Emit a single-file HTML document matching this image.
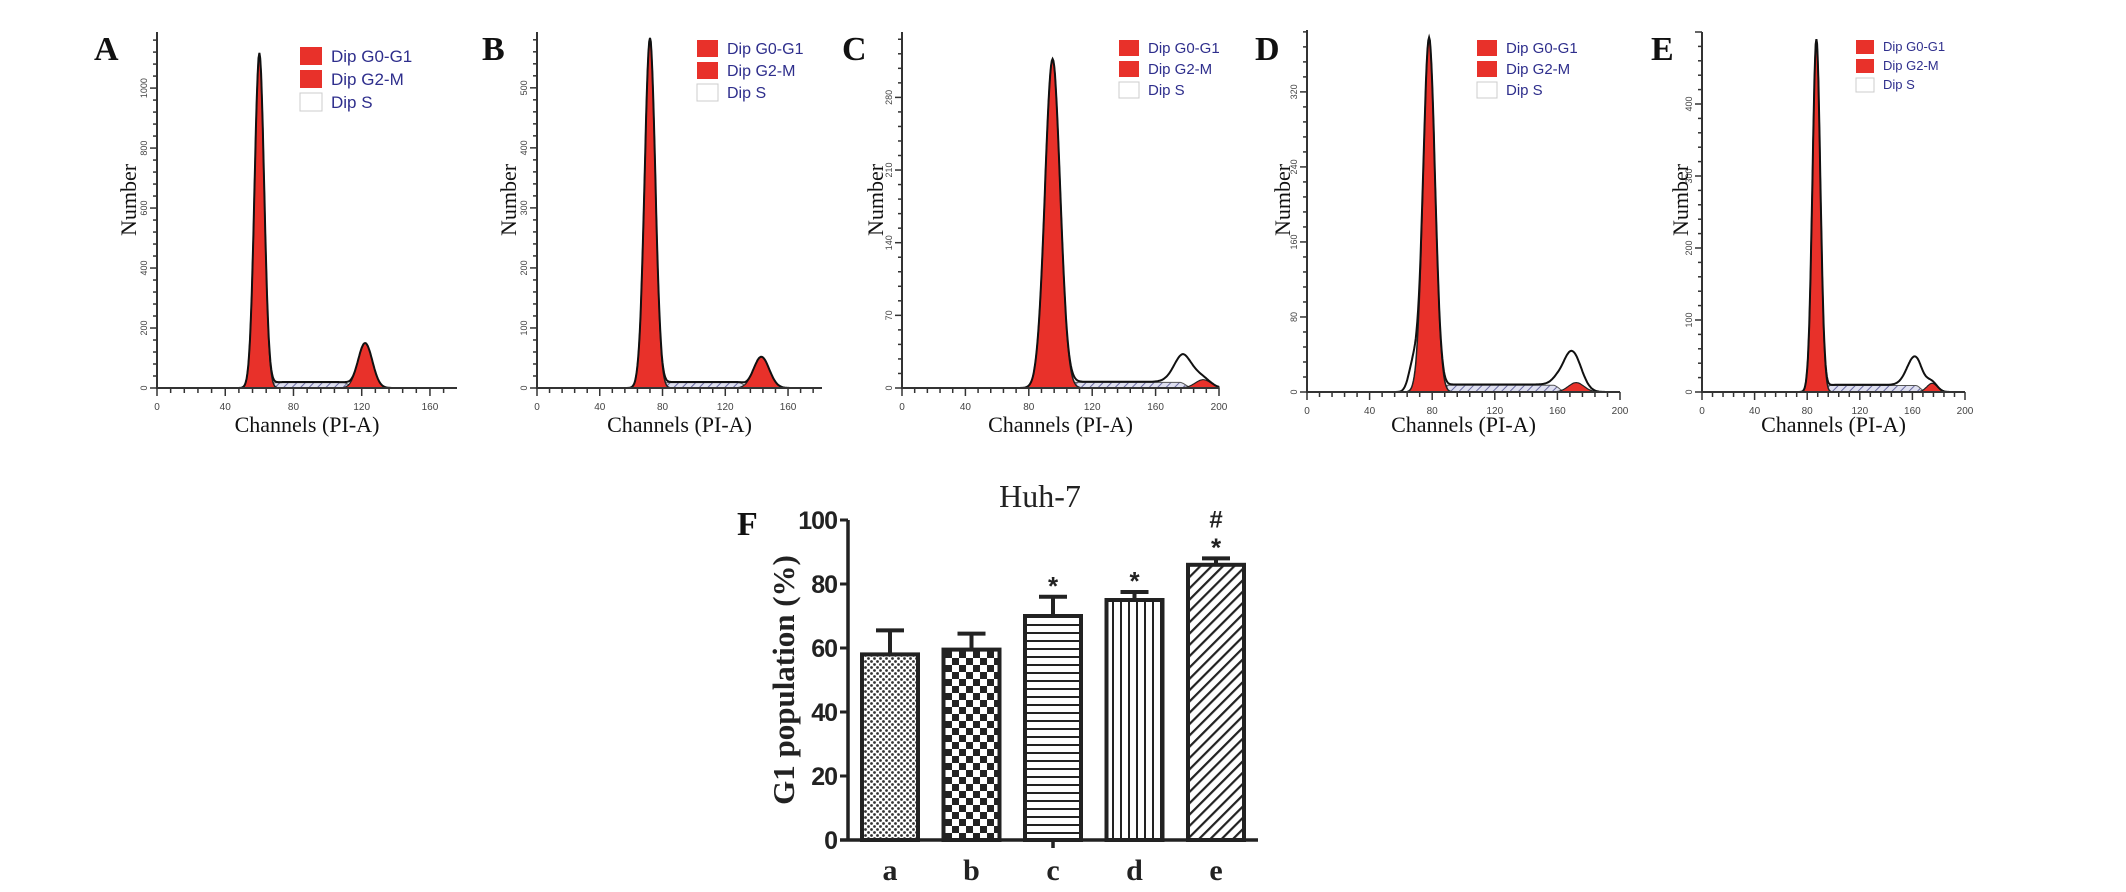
<!DOCTYPE html>
<html><head><meta charset="utf-8">
<style>
html,body{margin:0;padding:0;background:#fff;}
svg{display:block;}
</style></head>
<body>
<svg id="fig" width="2126" height="892" viewBox="0 0 2126 892" xmlns="http://www.w3.org/2000/svg">
<defs>
<pattern id="hatchS" width="6" height="6" patternUnits="userSpaceOnUse" patternTransform="rotate(45)">
<rect width="6" height="6" fill="#dfe0f0"/><line x1="0" y1="0" x2="0" y2="6" stroke="#6a6aa0" stroke-width="2"/></pattern>
<pattern id="pA" width="6" height="6" patternUnits="userSpaceOnUse">
<rect width="6" height="6" fill="#fff"/><circle cx="1.5" cy="1.5" r="1.4" fill="#333"/><circle cx="4.5" cy="4.5" r="1.4" fill="#333"/></pattern>
<pattern id="pB" width="14" height="14" patternUnits="userSpaceOnUse">
<rect width="14" height="14" fill="#fff"/><rect width="7" height="7" fill="#222"/><rect x="7" y="7" width="7" height="7" fill="#222"/></pattern>
<pattern id="pC" width="8" height="8" patternUnits="userSpaceOnUse">
<rect width="8" height="8" fill="#fff"/><rect y="0" width="8" height="2" fill="#222"/></pattern>
<pattern id="pD" width="8" height="8" patternUnits="userSpaceOnUse">
<rect width="8" height="8" fill="#fff"/><rect x="0" width="2" height="8" fill="#222"/></pattern>
<pattern id="pE" width="8" height="8" patternUnits="userSpaceOnUse" patternTransform="rotate(45)">
<rect width="8" height="8" fill="#fff"/><rect x="0" width="2.2" height="8" fill="#222"/></pattern>
</defs>
<g id="hists"></g>
<g id="bars"></g>
</svg>
<script>
// ---- histogram panel data (A..E) ----
const panelLetters = ["A","B","C","D","E"];
const g1Channel = [60, 72, 95, 78, 87];
const g1Height  = [1117, 583, 317, 378, 490];
const g1Width   = [2.8, 3.4, 4.8, 3.8, 3.0];
const g2Channel = [122, 143, 190, 172, 175];
const g2Height  = [150, 52, 8, 10, 12];
const g2Width   = [4.2, 5.0, 5, 5, 4];
const sLevel    = [20, 10, 6, 8, 10];
const extraChannel = [0, 0, 178, 168, 162];
const extraHeight  = [0, 0, 28, 36, 40];
const shoulderHeight = [0, 0, 0, 30, 0];
const yTickLabels = [["0","200","400","600","800","1000"],["0","100","200","300","400","500"],["0","70","140","210","280"],["0","80","160","240","320"],["0","100","200","300","400"]];
const xTickLabels = [["0","40","80","120","160"],["0","40","80","120","160"],["0","40","80","120","160","200"],["0","40","80","120","160","200"],["0","40","80","120","160","200"]];
// ---- bar chart data ----
const barCategories = ["a","b","c","d","e"];
const barValues = [58, 59.5, 70, 75, 86];
const barErrors = [7.5, 5, 6, 2.5, 2];
const barMarks = ["","","*","*","*#"];
const yTicksBar = [0,20,40,60,80,100];

// layout (pixel geometry, not data)
const geo = [
 {x0:157,base:388,top:32,xEnd:457,ppc:1.706,yMax:1187,lx:94,nx:128,legX:300,legY:47,legS:18,fs:17},
 {x0:537,base:388,top:32,xEnd:822,ppc:1.569,yMax:593,lx:482,nx:508,legX:697,legY:40,legS:17,fs:16},
 {x0:902,base:388,top:32,xEnd:1219,ppc:1.585,yMax:343,lx:842,nx:875,legX:1119,legY:40,legS:16,fs:15},
 {x0:1307,base:392,top:30,xEnd:1620,ppc:1.565,yMax:386,lx:1255,nx:1282,legX:1477,legY:40,legS:16,fs:15},
 {x0:1702,base:392,top:32,xEnd:1965,ppc:1.315,yMax:500,lx:1651,nx:1680,legX:1856,legY:40,legS:14,fs:13}
];
const NS="http://www.w3.org/2000/svg";
function mk(tag,attrs,parent){const e=document.createElementNS(NS,tag);for(const k in attrs)e.setAttribute(k,attrs[k]);parent.appendChild(e);return e;}
const gauss=(x,m,s)=>Math.exp(-0.5*((x-m)/s)**2);
const hists=document.getElementById('hists');
panelLetters.forEach((L,i)=>{
  const g=geo[i];
  const grp=mk('g',{},hists);
  
  
  const X=c=>g.x0+c*g.ppc, Y=v=>g.base-v*(g.base-g.top)/g.yMax;
  const chMax=(g.xEnd-g.x0)/g.ppc;
  const s1=g1Channel[i]+2.2*g1Width[i], s2=g2Channel[i]-2.2*g2Width[i];
  const sFn=c=>{const a=1/(1+Math.exp(-(c-s1)/1.5)),b=1/(1+Math.exp((c-s2)/1.5));return sLevel[i]*a*b;};
  const g1=c=>g1Height[i]*gauss(c,g1Channel[i],g1Width[i]);
  const g2=c=>g2Height[i]*gauss(c,g2Channel[i],g2Width[i]);
  const ex=c=>extraHeight[i]*gauss(c,extraChannel[i],6)+shoulderHeight[i]*gauss(c,g1Channel[i]-10,3);
  let pS='',p1='',p2='',pT='';
  for(let c=0;c<=chMax;c+=0.5){
    pS+=(c?'L':'M')+X(c).toFixed(1)+','+Y(Math.min(sFn(c),sLevel[i]*0.9)).toFixed(1);
    p1+=(c?'L':'M')+X(c).toFixed(1)+','+Y(g1(c)).toFixed(1);
    p2+=(c?'L':'M')+X(c).toFixed(1)+','+Y(g2(c)).toFixed(1);
    pT+=(c?'L':'M')+X(c).toFixed(1)+','+Y(g1(c)+g2(c)+sFn(c)+ex(c)).toFixed(1);
  }
  const close='L'+X(chMax).toFixed(1)+','+g.base+'L'+g.x0+','+g.base+'Z';
  const sp=mk('path',{d:pS+close,fill:'url(#hatchS)',stroke:'#555','stroke-width':1},grp);
  
  
  const r1=mk('path',{d:p1+close,fill:'#e8312a',stroke:'#222','stroke-width':1.5},grp);
  
  
  const r2=mk('path',{d:p2+close,fill:'#e8312a',stroke:'#222','stroke-width':1.2},grp);
  
  
  const tl=mk('path',{d:pT,fill:'none',stroke:'#111','stroke-width':2},grp);
  
  
  const ax=mk('path',{d:`M${g.x0},${g.top}V${g.base}H${g.xEnd}`,fill:'none',stroke:'#333','stroke-width':2},grp);
  
  
  const stepPx=(g.base-g.top)*(parseFloat(yTickLabels[i][1]))/g.yMax;
  for(let k=0;Y(0)-k*stepPx/5>=g.top;k++){
    const yy=g.base-k*stepPx/5;
    mk('line',{x1:g.x0-(k%5?4:7),x2:g.x0,y1:yy,y2:yy,stroke:'#333','stroke-width':1.5},grp);
  }
  yTickLabels[i].forEach((lab,k)=>{
    const yy=Y(parseFloat(lab));
    const t=mk('text',{x:0,y:0,transform:`translate(${g.x0-10},${yy}) rotate(-90)`,'font-family':'Liberation Sans, sans-serif','font-size':9,fill:'#444','text-anchor':'middle'},grp);
    t.textContent=lab;
    
    
  });
  for(let c=0;c<=chMax;c+=8){
    mk('line',{x1:X(c),x2:X(c),y1:g.base,y2:g.base+(c%40?5:8),stroke:'#333','stroke-width':1.5},grp);
  }
  xTickLabels[i].forEach(lab=>{
    const t=mk('text',{x:X(parseFloat(lab)),y:g.base+22,'font-family':'Liberation Sans, sans-serif','font-size':10,fill:'#444','text-anchor':'middle'},grp);
    t.textContent=lab;
    
    
  });
  const xt=mk('text',{x:(g.x0+g.xEnd)/2,y:432,'font-family':'Liberation Serif, serif','font-size':22,fill:'#111','text-anchor':'middle'},grp);
  xt.textContent='Channels (PI-A)';
  
  
  const yt=mk('text',{x:0,y:0,transform:`translate(${g.nx+8},200) rotate(-90)`,'font-family':'Liberation Serif, serif','font-size':22,fill:'#111','text-anchor':'middle'},grp);
  yt.textContent='Number';
  
  
  const pl=mk('text',{x:g.lx,y:60,'font-family':'Liberation Serif, serif','font-size':34,'font-weight':'bold',fill:'#111'},grp);
  pl.textContent=L;
  
  
  ['Dip G0-G1','Dip G2-M','Dip S'].forEach((lab,k)=>{
    const yy=g.legY+k*(g.legS+5);
    const sq=mk('rect',{x:g.legX,y:yy,width:g.legS+4,height:g.legS,fill:k<2?'#e8312a':'#fff',stroke:k<2?'none':'#ccc'},grp);
    
    
    const t=mk('text',{x:g.legX+g.legS+13,y:yy+g.legS-3,'font-family':'Liberation Sans, sans-serif','font-size':g.fs,fill:'#2e2e8c'},grp);
    t.textContent=lab;
    
    
  });
});

// ---- bar chart ----
const bars=document.getElementById('bars');
const bx0=848, by0=840, by100=520, barW=56, slot0=890, slotStep=81.5;
const yB=v=>by0-(v/100)*(by0-by100);
const pats=['pA','pB','pC','pD','pE'];
barCategories.forEach((cat,i)=>{
  const cx=slot0+i*slotStep, v=barValues[i], e=barErrors[i];
  const eb=mk('path',{d:`M${cx},${yB(v)}V${yB(v+e)}M${cx-14},${yB(v+e)}H${cx+14}`,stroke:'#222','stroke-width':4,fill:'none'},bars);
  
  
  const r=mk('rect',{x:cx-barW/2,y:yB(v),width:barW,height:by0-yB(v),fill:`url(#${pats[i]})`,stroke:'#222','stroke-width':4},bars);
  
  
  const t=mk('text',{x:cx,y:880,'font-family':'Liberation Serif, serif','font-size':30,'font-weight':'bold',fill:'#222','text-anchor':'middle'},bars);
  t.textContent=cat;
  
  
  const m=barMarks[i];
  if(m.includes('*')){
    const s=mk('text',{x:cx,y:yB(v+e)-2,'font-family':'Liberation Sans, sans-serif','font-size':26,'font-weight':'bold',fill:'#222','text-anchor':'middle'},bars);
    s.textContent='*';
    
    
  }
  if(m.includes('#')){
    const s=mk('text',{x:cx,y:yB(v+e)-31,'font-family':'Liberation Sans, sans-serif','font-size':24,'font-weight':'bold',fill:'#222','text-anchor':'middle'},bars);
    s.textContent='#';
    
    
  }
});
const bax=mk('path',{d:`M${bx0},${by100}V${by0}M840,${by0}H1258M1053,${by0}V${by0+8}`,stroke:'#222','stroke-width':3.5,fill:'none'},bars);


yTicksBar.forEach(v=>{
  mk('line',{x1:bx0-8,x2:bx0,y1:yB(v),y2:yB(v),stroke:'#222','stroke-width':3},bars);
  const t=mk('text',{x:bx0-11,y:yB(v)+9,'font-family':'Liberation Sans, sans-serif','font-size':25,'font-weight':'bold',fill:'#222','text-anchor':'end','letter-spacing':'-1'},bars);
  t.textContent=v;
  
  
});
const ttl=mk('text',{x:1040,y:507,'font-family':'Liberation Serif, serif','font-size':32,fill:'#222','text-anchor':'middle'},bars);
ttl.textContent='Huh-7';


const yl=mk('text',{x:0,y:0,transform:'translate(794,680) rotate(-90)','font-family':'Liberation Serif, serif','font-size':31,'font-weight':'bold',fill:'#222','text-anchor':'middle'},bars);
yl.textContent='G1 population (%)';


const fl=mk('text',{x:737,y:535,'font-family':'Liberation Serif, serif','font-size':34,'font-weight':'bold',fill:'#111'},bars);
fl.textContent='F';


</script>
</body></html>
